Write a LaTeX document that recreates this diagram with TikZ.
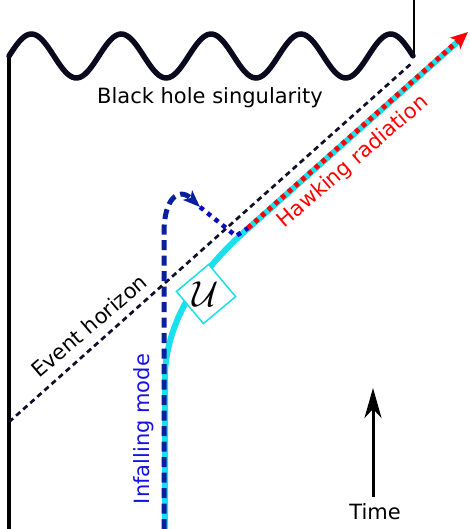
\documentclass[tikz,border=0pt]{standalone}
\usepackage{fontspec}
\setmainfont{DejaVu Sans}
\usetikzlibrary{arrows.meta}
\definecolor{wavecol}{RGB}{10,10,30}
\definecolor{horizcol}{RGB}{15,15,40}
\definecolor{cyancol}{RGB}{25,225,235}
\definecolor{navycol}{RGB}{10,30,160}
\definecolor{dotblue}{RGB}{10,10,200}
\definecolor{labelblue}{RGB}{20,20,225}
\definecolor{hawkred}{RGB}{255,0,0}
\tikzset{
  lbl/.style={font=\fontsize{21}{25}\selectfont, inner sep=0pt},
  horizonline/.style={horizcol, line width=2.7pt, dash pattern=on 5.5pt off 4pt},
  cyanline/.style={cyancol, line width=6pt},
  reddots/.style={hawkred, line width=5pt, dash pattern=on 4.5pt off 4.5pt, -{Stealth[length=17pt,width=15pt,inset=4pt]}},
  bluedash/.style={navycol, line width=5pt, dash pattern=on 10pt off 5.5pt, -{Stealth[length=17pt,width=13pt,inset=4pt]}},
  bluedots/.style={dotblue, line width=4.5pt, dash pattern=on 4.5pt off 5pt},
  ubox/.style={draw=cyancol, fill=white, line width=1.5pt, minimum size=42pt, inner sep=0pt, rotate=40},
}
\begin{document}
\begin{tikzpicture}[x=1pt, y=-1pt]
\useasboundingbox (0,0) rectangle (469,529);
% walls
\coordinate (wallbot) at (9,529);
\coordinate (walltop) at (9,54);
\coordinate (rtop) at (414,0);
\coordinate (rbot) at (414,58);
\draw[black, line width=3.5pt] (wallbot) -- (walltop);
\draw[black, line width=2pt] (rtop) -- (rbot);
% singularity
\draw[wavecol, line width=5.5pt, line cap=round] plot[smooth, domain=9:413, samples=160] (\x, {56-22*sin(4.00891*(\x-9))});
% event horizon
\coordinate (hstart) at (9,422);
\coordinate (hend) at (413,62);
\draw[horizonline] (hstart) -- (hend);
% cyan mode
\coordinate (cbot) at (165,529);
\coordinate (cbend) at (165,372);
\coordinate (cjoin) at (243,233);
\coordinate (cend) at (462,38);
\draw[cyanline] (cbot) -- (cbend) .. controls (168,318) and (200,272) .. (cjoin) -- (cend);
% infalling mode
\coordinate (bbot) at (164,529);
\coordinate (bturn) at (164,232);
\coordinate (btip) at (200,207);
\draw[bluedash] (bbot) -- (bturn) .. controls (164,200) and (178,186) .. (btip);
\coordinate (dcorner) at (236,236);
\coordinate (dend) at (248,228);
\draw[bluedots] (btip) -- (dcorner) -- (dend);
% Hawking radiation
\coordinate (rtip) at (468,32);
\draw[reddots] (dend) -- (rtip);
% U box
\node[ubox] (ubox) at (206,294) {};
\node[inner sep=0pt, scale=1.45, font=\fontsize{24.88}{25}\selectfont] (ulabel) at (ubox.center) {$\mathcal{U}$};
% time arrow
\coordinate (tbot) at (373,497);
\coordinate (ttop) at (373,388);
\draw[black, line width=3pt, -{Stealth[length=30pt,width=17pt,inset=9pt]}] (tbot) -- (ttop);
% labels
\node[lbl, anchor=base] (singlbl) at (210,104) {Black hole singularity};
\node[lbl, rotate=40.5] (ehlbl) at (89,326) {Event horizon};
\node[lbl, rotate=40.7, text=hawkred] (hrlbl) at (353,162) {Hawking radiation};
\node[lbl, rotate=90, text=labelblue] (inflbl) at (144,429) {Infalling mode};
\node[lbl, anchor=base] (timelbl) at (375,519) {Time};
\end{tikzpicture}
\end{document}
